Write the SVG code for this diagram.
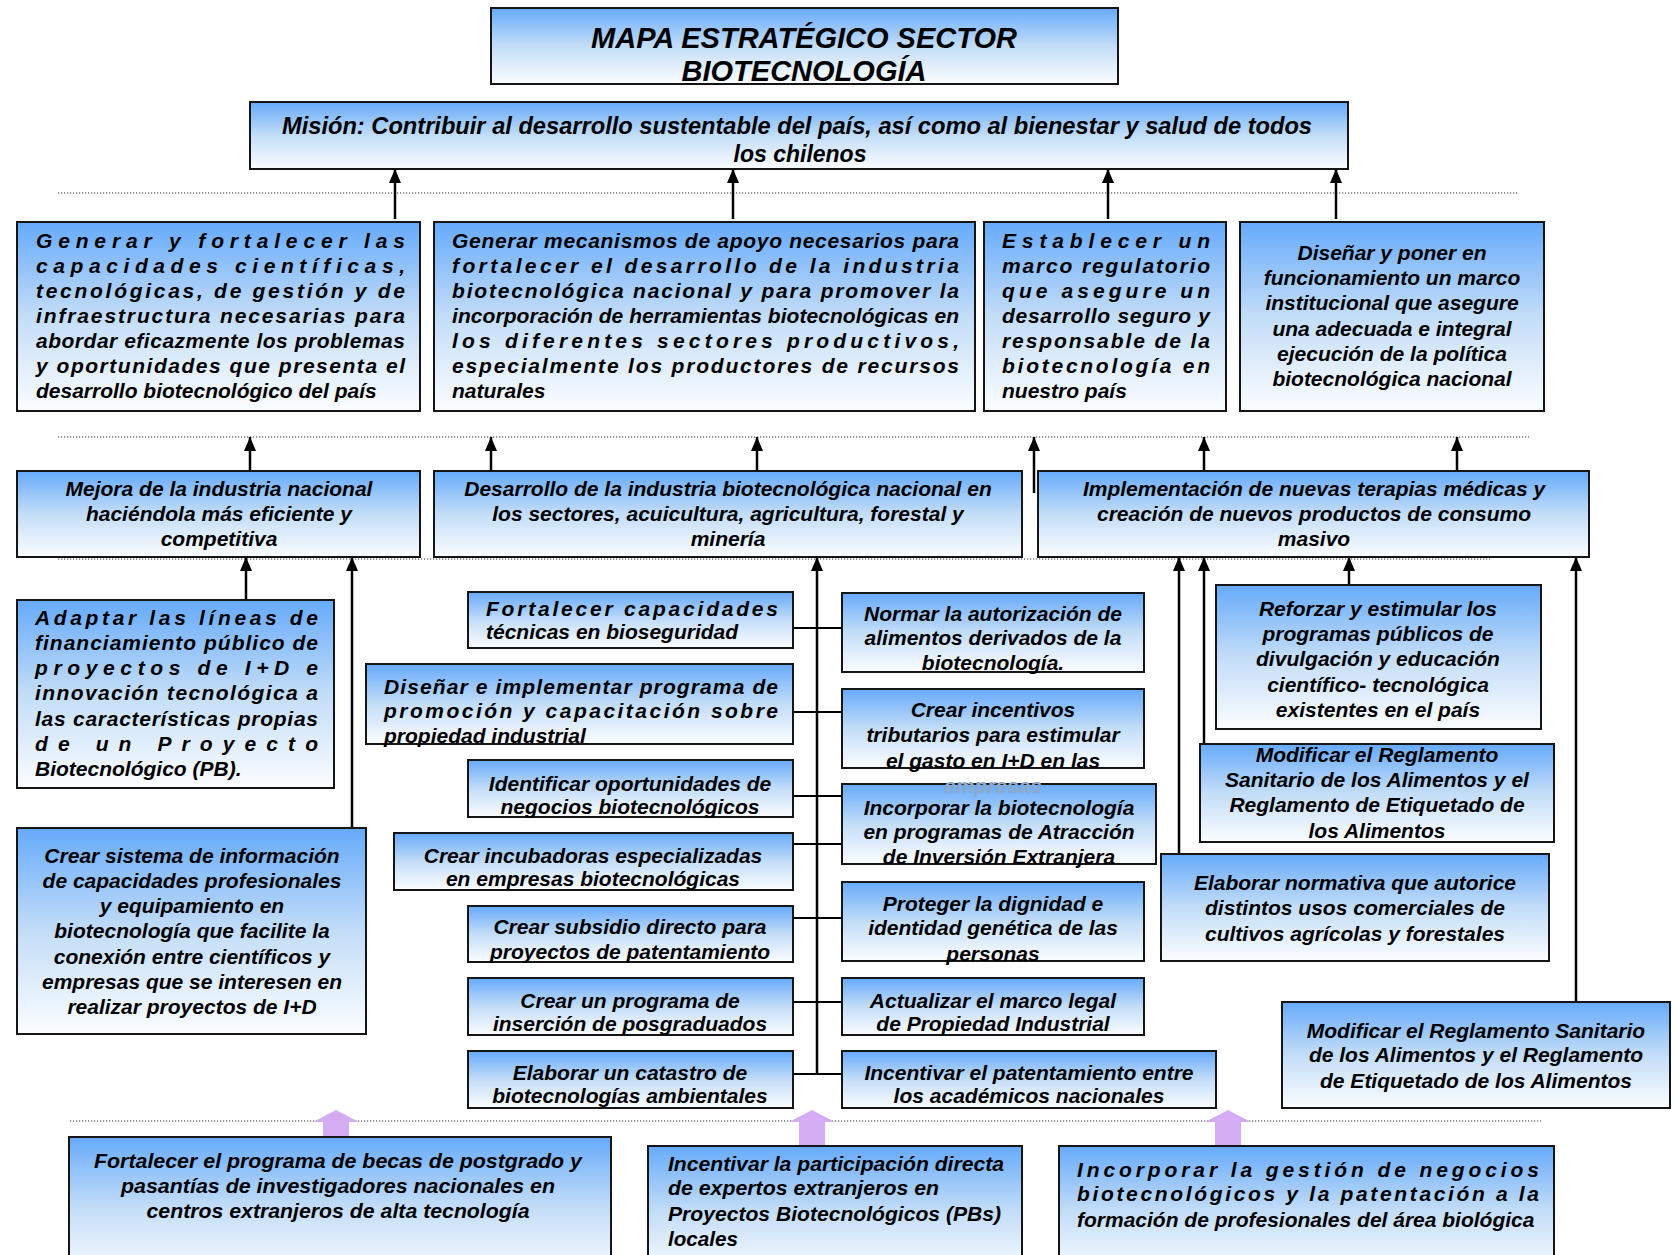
<svg xmlns="http://www.w3.org/2000/svg" width="1675" height="1255" viewBox="0 0 1675 1255">
<defs>
<linearGradient id="g" x1="0" y1="0" x2="0" y2="1">
<stop offset="0" stop-color="#66aafb"/>
<stop offset="0.5" stop-color="#c3ddf8"/>
<stop offset="1" stop-color="#fbfdff"/>
</linearGradient>
<marker id="ah" viewBox="0 0 14 12" refX="14" refY="6" markerWidth="14" markerHeight="12" markerUnits="userSpaceOnUse" orient="auto">
<path d="M0,0 L14,6 L0,12 z" fill="#000"/>
</marker>
<style>
.b{fill:url(#g);stroke:#151515;stroke-width:2}
.t{font-family:"Liberation Sans",Arial,sans-serif;font-weight:bold;font-style:italic;font-size:21px;fill:#000}
.c{text-anchor:middle}
.ttl{font-size:29px}
.mis{font-size:23px}
.ar{stroke:#000;stroke-width:2.5;fill:none;marker-end:url(#ah)}
.ln{stroke:#000;stroke-width:2;fill:none}
.dot{stroke:#333;stroke-width:1.2;stroke-dasharray:1.2 1.8;fill:none}
.pa{fill:#d4acf3}
.faint{fill:#8fa8c8}
</style>
</defs>
<rect width="1675" height="1255" fill="#fff"/>

<g id="dotted-lines">
<line class="dot" x1="58" y1="193" x2="1518" y2="193"/>
<line class="dot" x1="58" y1="437" x2="1529" y2="437"/>
<line class="dot" x1="58" y1="559" x2="1490" y2="559"/>
<line class="dot" x1="70" y1="1121" x2="1541" y2="1121"/>
</g>

<g id="connectors">
<line class="ar" x1="395" y1="219" x2="395" y2="169"/>
<line class="ar" x1="733" y1="219" x2="733" y2="169"/>
<line class="ar" x1="1108" y1="219" x2="1108" y2="169"/>
<line class="ar" x1="1336" y1="219" x2="1336" y2="169"/>
<line class="ar" x1="250" y1="471" x2="250" y2="437"/>
<line class="ar" x1="491" y1="471" x2="491" y2="437"/>
<line class="ar" x1="757" y1="471" x2="757" y2="437"/>
<line class="ar" x1="1034" y1="493" x2="1034" y2="437"/>
<line class="ar" x1="1204" y1="471" x2="1204" y2="437"/>
<line class="ar" x1="1457" y1="471" x2="1457" y2="437"/>
<line class="ar" x1="246" y1="600" x2="246" y2="557"/>
<line class="ar" x1="352" y1="828" x2="352" y2="557"/>
<line class="ar" x1="817" y1="1074" x2="817" y2="557"/>
<line class="ar" x1="1349" y1="585" x2="1349" y2="557"/>
<line class="ar" x1="1204" y1="744" x2="1204" y2="557"/>
<line class="ar" x1="1179" y1="854" x2="1179" y2="557"/>
<line class="ar" x1="1576" y1="1002" x2="1576" y2="557"/>
<path class="ln" d="M793,628H842M793,712H842M793,796H842M793,844H842M793,918H842M793,1002H842M793,1074H842"/>
<polygon class="pa" points="336,1110 359,1122 349,1122 349,1138 323,1138 323,1122 313,1122"/>
<polygon class="pa" points="812,1110 835,1122 825,1122 825,1147 799,1147 799,1122 789,1122"/>
<polygon class="pa" points="1228,1110 1251,1122 1241,1122 1241,1147 1215,1147 1215,1122 1205,1122"/>
</g>

<g id="title">
<rect class="b" x="491" y="8" width="627" height="76"/>
<text class="t c ttl" x="804" y="48">MAPA ESTRATÉGICO SECTOR</text>
<text class="t c ttl" x="804" y="81">BIOTECNOLOGÍA</text>
</g>

<g id="mision">
<rect class="b" x="250" y="102" width="1098" height="67"/>
<text class="t c mis" x="797" y="134" textLength="1030" lengthAdjust="spacingAndGlyphs">Misión: Contribuir al desarrollo sustentable del país, así como al bienestar y salud de todos</text>
<text class="t c mis" x="800" y="162">los chilenos</text>
</g>

<g id="obj-capacidades">
<rect class="b" x="17" y="222" width="403" height="189"/>
<text class="t" x="36" y="248" textLength="369" lengthAdjust="spacing">Generar y fortalecer las</text>
<text class="t" x="36" y="273" textLength="369" lengthAdjust="spacing">capacidades científicas,</text>
<text class="t" x="36" y="298" textLength="369" lengthAdjust="spacing">tecnológicas, de gestión y de</text>
<text class="t" x="36" y="323" textLength="369" lengthAdjust="spacing">infraestructura necesarias para</text>
<text class="t" x="36" y="348" textLength="369" lengthAdjust="spacing">abordar eficazmente los problemas</text>
<text class="t" x="36" y="373" textLength="369" lengthAdjust="spacing">y oportunidades que presenta el</text>
<text class="t" x="36" y="398">desarrollo biotecnológico del país</text>
</g>

<g id="obj-mecanismos">
<rect class="b" x="434" y="222" width="541" height="189"/>
<text class="t" x="452" y="248" textLength="507" lengthAdjust="spacing">Generar mecanismos de apoyo necesarios para</text>
<text class="t" x="452" y="273" textLength="507" lengthAdjust="spacing">fortalecer el desarrollo de la industria</text>
<text class="t" x="452" y="298" textLength="507" lengthAdjust="spacing">biotecnológica nacional y para promover la</text>
<text class="t" x="452" y="323" textLength="507" lengthAdjust="spacing">incorporación de herramientas biotecnológicas en</text>
<text class="t" x="452" y="348" textLength="507" lengthAdjust="spacing">los diferentes sectores productivos,</text>
<text class="t" x="452" y="373" textLength="507" lengthAdjust="spacing">especialmente los productores de recursos</text>
<text class="t" x="452" y="398">naturales</text>
</g>

<g id="obj-marco-regulatorio">
<rect class="b" x="984" y="222" width="242" height="189"/>
<text class="t" x="1002" y="248" textLength="208" lengthAdjust="spacing">Establecer un</text>
<text class="t" x="1002" y="273" textLength="208" lengthAdjust="spacing">marco regulatorio</text>
<text class="t" x="1002" y="298" textLength="208" lengthAdjust="spacing">que asegure un</text>
<text class="t" x="1002" y="323" textLength="208" lengthAdjust="spacing">desarrollo seguro y</text>
<text class="t" x="1002" y="348" textLength="208" lengthAdjust="spacing">responsable de la</text>
<text class="t" x="1002" y="373" textLength="208" lengthAdjust="spacing">biotecnología en</text>
<text class="t" x="1002" y="398">nuestro país</text>
</g>

<g id="obj-marco-institucional">
<rect class="b" x="1240" y="222" width="304" height="189"/>
<text class="t c" x="1392" y="260">Diseñar y poner en</text>
<text class="t c" x="1392" y="285">funcionamiento un marco</text>
<text class="t c" x="1392" y="310">institucional que asegure</text>
<text class="t c" x="1392" y="336">una adecuada e integral</text>
<text class="t c" x="1392" y="361">ejecución de la política</text>
<text class="t c" x="1392" y="386">biotecnológica nacional</text>
</g>

<g id="res-mejora">
<rect class="b" x="17" y="471" width="403" height="86"/>
<text class="t c" x="219" y="496">Mejora de la industria nacional</text>
<text class="t c" x="219" y="521">haciéndola más eficiente y</text>
<text class="t c" x="219" y="546">competitiva</text>
</g>

<g id="res-desarrollo">
<rect class="b" x="434" y="471" width="588" height="86"/>
<text class="t c" x="728" y="496">Desarrollo de la industria biotecnológica nacional en</text>
<text class="t c" x="728" y="521">los sectores, acuicultura, agricultura, forestal  y</text>
<text class="t c" x="728" y="546">minería</text>
</g>

<g id="res-implementacion">
<rect class="b" x="1038" y="471" width="551" height="86"/>
<text class="t c" x="1314" y="496">Implementación de  nuevas terapias médicas y</text>
<text class="t c" x="1314" y="521">creación de  nuevos productos de consumo</text>
<text class="t c" x="1314" y="546">masivo</text>
</g>

<g id="act-adaptar">
<rect class="b" x="17" y="600" width="317" height="188"/>
<text class="t" x="35" y="625" textLength="283" lengthAdjust="spacing">Adaptar las líneas de</text>
<text class="t" x="35" y="650" textLength="283" lengthAdjust="spacing">financiamiento público de</text>
<text class="t" x="35" y="675" textLength="283" lengthAdjust="spacing">proyectos de I+D e</text>
<text class="t" x="35" y="700" textLength="283" lengthAdjust="spacing">innovación tecnológica a</text>
<text class="t" x="35" y="726" textLength="283" lengthAdjust="spacing">las características propias</text>
<text class="t" x="35" y="751" textLength="283" lengthAdjust="spacing">de un Proyecto</text>
<text class="t" x="35" y="776">Biotecnológico (PB).</text>
</g>

<g id="act-sistema">
<rect class="b" x="17" y="828" width="349" height="206"/>
<text class="t c" x="192" y="863">Crear sistema de información</text>
<text class="t c" x="192" y="888">de capacidades profesionales</text>
<text class="t c" x="192" y="913">y equipamiento en</text>
<text class="t c" x="192" y="938">biotecnología que facilite la</text>
<text class="t c" x="192" y="964">conexión entre científicos y</text>
<text class="t c" x="192" y="989">empresas que se interesen en</text>
<text class="t c" x="192" y="1014">realizar proyectos de I+D</text>
</g>

<g id="act-bioseguridad">
<rect class="b" x="468" y="592" width="325" height="56"/>
<text class="t" x="486" y="616" textLength="292" lengthAdjust="spacing">Fortalecer capacidades</text>
<text class="t" x="486" y="639">técnicas en bioseguridad</text>
</g>

<g id="act-propiedad">
<rect class="b" x="366" y="664" width="427" height="80"/>
<text class="t" x="384" y="694" textLength="394" lengthAdjust="spacing">Diseñar e implementar  programa de</text>
<text class="t" x="384" y="718" textLength="394" lengthAdjust="spacing">promoción y capacitación sobre</text>
<text class="t" x="384" y="743">propiedad industrial</text>
</g>

<g id="act-oportunidades">
<rect class="b" x="468" y="760" width="325" height="57"/>
<text class="t c" x="630" y="791">Identificar oportunidades de</text>
<text class="t c" x="630" y="814">negocios biotecnológicos</text>
</g>

<g id="act-incubadoras">
<rect class="b" x="394" y="833" width="399" height="57"/>
<text class="t c" x="593" y="863">Crear incubadoras especializadas</text>
<text class="t c" x="593" y="886">en empresas biotecnológicas</text>
</g>

<g id="act-subsidio">
<rect class="b" x="468" y="906" width="325" height="56"/>
<text class="t c" x="630" y="934">Crear subsidio directo para</text>
<text class="t c" x="630" y="959">proyectos de patentamiento</text>
</g>

<g id="act-posgraduados">
<rect class="b" x="468" y="978" width="325" height="57"/>
<text class="t c" x="630" y="1008">Crear un programa de</text>
<text class="t c" x="630" y="1031">inserción de posgraduados</text>
</g>

<g id="act-catastro">
<rect class="b" x="468" y="1051" width="325" height="57"/>
<text class="t c" x="630" y="1080">Elaborar un catastro de</text>
<text class="t c" x="630" y="1103">biotecnologías ambientales</text>
</g>

<g id="act-normar">
<rect class="b" x="842" y="593" width="302" height="79"/>
<text class="t c" x="993" y="621">Normar la autorización de</text>
<text class="t c" x="993" y="645">alimentos derivados de la</text>
<text class="t c" x="993" y="670">biotecnología.</text>
</g>

<g id="act-incentivos">
<rect class="b" x="842" y="689" width="302" height="79"/>
<text class="t c" x="993" y="717">Crear incentivos</text>
<text class="t c" x="993" y="742">tributarios para estimular</text>
<text class="t c" x="993" y="768">el gasto en I+D en las</text>
</g>

<g id="act-atraccion">
<rect class="b" x="842" y="784" width="314" height="80"/>
<text class="t c faint" x="993" y="793">empresas</text>
<text class="t c" x="999" y="815">Incorporar la biotecnología</text>
<text class="t c" x="999" y="839">en programas de Atracción</text>
<text class="t c" x="999" y="864">de Inversión Extranjera</text>
</g>

<g id="act-dignidad">
<rect class="b" x="842" y="882" width="302" height="79"/>
<text class="t c" x="993" y="911">Proteger la dignidad e</text>
<text class="t c" x="993" y="935">identidad genética de las</text>
<text class="t c" x="993" y="961">personas</text>
</g>

<g id="act-marco-legal">
<rect class="b" x="842" y="978" width="302" height="57"/>
<text class="t c" x="993" y="1008">Actualizar el marco legal</text>
<text class="t c" x="993" y="1031">de Propiedad Industrial</text>
</g>

<g id="act-patentamiento">
<rect class="b" x="842" y="1051" width="374" height="57"/>
<text class="t c" x="1029" y="1080">Incentivar el patentamiento entre</text>
<text class="t c" x="1029" y="1103">los académicos nacionales</text>
</g>

<g id="act-divulgacion">
<rect class="b" x="1216" y="585" width="325" height="144"/>
<text class="t c" x="1378" y="616">Reforzar y estimular los</text>
<text class="t c" x="1378" y="641">programas públicos de</text>
<text class="t c" x="1378" y="666">divulgación y educación</text>
<text class="t c" x="1378" y="692">científico- tecnológica</text>
<text class="t c" x="1378" y="717">existentes en el país</text>
</g>

<g id="act-reglamento-1">
<rect class="b" x="1200" y="744" width="354" height="98"/>
<text class="t c" x="1377" y="762">Modificar el Reglamento</text>
<text class="t c" x="1377" y="787">Sanitario de los Alimentos y el</text>
<text class="t c" x="1377" y="812">Reglamento de Etiquetado de</text>
<text class="t c" x="1377" y="838">los Alimentos</text>
</g>

<g id="act-normativa">
<rect class="b" x="1161" y="854" width="388" height="107"/>
<text class="t c" x="1355" y="890">Elaborar normativa que autorice</text>
<text class="t c" x="1355" y="915">distintos usos comerciales de</text>
<text class="t c" x="1355" y="941">cultivos agrícolas y forestales</text>
</g>

<g id="act-reglamento-2">
<rect class="b" x="1282" y="1002" width="388" height="106"/>
<text class="t c" x="1476" y="1038">Modificar el Reglamento Sanitario</text>
<text class="t c" x="1476" y="1062">de los Alimentos y el Reglamento</text>
<text class="t c" x="1476" y="1088">de Etiquetado de los Alimentos</text>
</g>

<g id="base-becas">
<rect class="b" x="69" y="1137" width="542" height="140"/>
<text class="t c" x="338" y="1168" textLength="488" lengthAdjust="spacingAndGlyphs">Fortalecer el programa de becas de postgrado y</text>
<text class="t c" x="338" y="1193" textLength="434" lengthAdjust="spacingAndGlyphs">pasantías de investigadores nacionales en</text>
<text class="t c" x="338" y="1218" textLength="383" lengthAdjust="spacingAndGlyphs">centros extranjeros de alta tecnología</text>
</g>

<g id="base-expertos">
<rect class="b" x="648" y="1146" width="374" height="130"/>
<text class="t" x="668" y="1171" textLength="336" lengthAdjust="spacingAndGlyphs">Incentivar la participación directa</text>
<text class="t" x="668" y="1195" textLength="271" lengthAdjust="spacingAndGlyphs">de expertos extranjeros en</text>
<text class="t" x="668" y="1221" textLength="333" lengthAdjust="spacingAndGlyphs">Proyectos Biotecnológicos (PBs)</text>
<text class="t" x="668" y="1246" textLength="70" lengthAdjust="spacingAndGlyphs">locales</text>
</g>

<g id="base-gestion">
<rect class="b" x="1059" y="1146" width="495" height="130"/>
<text class="t" x="1077" y="1177" textLength="462" lengthAdjust="spacing">Incorporar la gestión de negocios</text>
<text class="t" x="1077" y="1201" textLength="462" lengthAdjust="spacing">biotecnológicos y la patentación a la</text>
<text class="t" x="1077" y="1227">formación de profesionales del área biológica</text>
</g>
</svg>
